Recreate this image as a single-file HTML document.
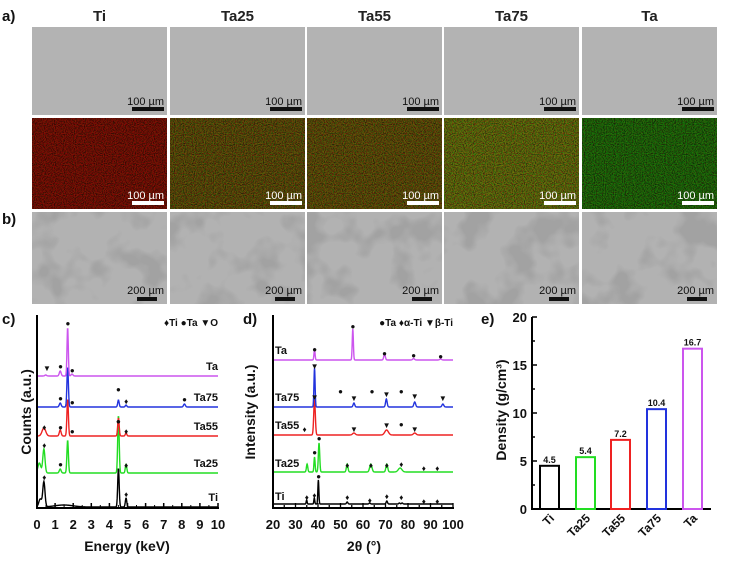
<!DOCTYPE html>
<html><head><meta charset="utf-8"><style>
html,body{margin:0;padding:0;background:#fff;}
svg{display:block;font-family:"Liberation Sans",Arial,sans-serif;}
</style></head><body>
<svg id="s" width="748" height="563" viewBox="0 0 748 563" xmlns="http://www.w3.org/2000/svg">
<defs></defs>
<g font-weight="bold" font-size="15" fill="#111">
<text x="2" y="21">a)</text><text x="2" y="224">b)</text>
<text x="2" y="324">c)</text><text x="243" y="324">d)</text><text x="481" y="324">e)</text>
</g>
<g id="imgs"></g>
<g id="charts"></g>
</svg>
<script>
const NS="http://www.w3.org/2000/svg";
const s=document.getElementById('imgs');
const D=document.querySelector('defs');
function el(t,a,p,txt){const e=document.createElementNS(NS,t);for(const k in a)e.setAttribute(k,a[k]);if(txt!==undefined)e.textContent=txt;(p||s).appendChild(e);return e;}
const xs=[32,170,307,444,582], W=135;
const names=["Ti","Ta25","Ta55","Ta75","Ta"];
const mapCols=[[105,8,8],[78,60,14],[80,62,14],[85,92,20],[20,88,15]];
names.forEach((n,i)=>{
  const x=xs[i];
  el('text',{x:x+W/2,y:21,'text-anchor':'middle','font-weight':'bold','font-size':15,fill:'#222'},s,n);
  el('rect',{x:x,y:27,width:W,height:88,fill:'#b3b3b3'});
  const c=mapCols[i];
  el('rect',{x:x,y:118,width:W,height:91,fill:`rgb(${c[0]},${c[1]},${c[2]})`});
  const f=el('filter',{id:'m'+i,x:0,y:0,width:'100%',height:'100%'},D);
  el('feTurbulence',{type:'fractalNoise',baseFrequency:0.9,numOctaves:1,seed:i+2},f);
  let r=c[0]/255,g=c[1]/255;
  el('feColorMatrix',{type:'matrix',values:`${3*r} 0 0 0 ${-1.2*r}  0 ${3*g} 0 0 ${-1.2*g}  0 0 0 0 0  0 0 0 0 0.45`},f);
  el('rect',{x:x,y:118,width:W,height:91,filter:`url(#m${i})`});
  el('rect',{x:x,y:212,width:W,height:92,fill:'#b2b2b2'});
  const f2=el('filter',{id:'s'+i,x:0,y:0,width:'100%',height:'100%'},D);
  el('feTurbulence',{type:'fractalNoise',baseFrequency:0.028,numOctaves:3,seed:i*5+1},f2);
  el('feColorMatrix',{type:'matrix',values:'0 0 0 0 0.36  0 0 0 0 0.36  0 0 0 0 0.36  -5 0 0 0 2.55'},f2);
  el('rect',{x:x,y:212,width:W,height:92,filter:`url(#s${i})`});
  el('text',{x:x+W-3,y:105,'text-anchor':'end','font-size':11,fill:'#111'},s,'100 µm');
  el('rect',{x:x+W-35,y:107,width:32,height:4,fill:'#111'});
  el('text',{x:x+W-3,y:199,'text-anchor':'end','font-size':11,fill:'#fff'},s,'100 µm');
  el('rect',{x:x+W-35,y:201,width:32,height:4,fill:'#fff'});
  el('text',{x:x+W-3,y:294,'text-anchor':'end','font-size':11,fill:'#111'},s,'200 µm');
  el('rect',{x:x+W-30,y:297,width:20,height:4,fill:'#111'});
});
const C=document.getElementById('charts');
const cols=['#000','#22dd22','#ee2222','#2233dd','#cc55ee'];
function curve(x0,x1,X0,X1,base,peaks,col,step){
  let d='';
  for(let v=x0;v<=x1+1e-9;v+=step){
    let h=0;for(const p of peaks){h+=p[1]*Math.exp(-((v-p[0])**2)/(2*p[2]*p[2]));}
    const px=X0+(v-x0)/(x1-x0)*(X1-X0);
    d+=(d?'L':'M')+px.toFixed(2)+','+(base-h).toFixed(2);
  }
  el('path',{d:d,fill:'none',stroke:col,'stroke-width':1.4},C);
}
function mk(x,y,t){el('text',{x:x,y:y,'text-anchor':'middle','font-size':8,fill:'#111'},C,t);}
// chart c
const ex=v=>37+v*18.1;
const eds=[[507,[[0.2,8,0.08],[0.4,25,0.06],[1.5,2,0.5],[4.51,39,0.04],[4.93,9,0.04]]],
[473,[[0.15,10,0.08],[0.4,24,0.06],[1.3,4,0.05],[1.71,33,0.04],[4.51,58,0.04],[4.93,9,0.04]]],
[436,[[0.4,8,0.1],[1.3,6,0.05],[1.71,37,0.04],[4.51,18,0.04],[4.93,3,0.04]]],
[407,[[1.3,4,0.05],[1.71,40,0.04],[4.51,7,0.04],[4.93,2,0.04],[8.15,3,0.05]]],
[376,[[0.5,1,0.05],[1.3,5,0.05],[1.71,49,0.035],[1.95,2,0.05]]]];
eds.forEach((e,i)=>curve(0.02,10,37,218,e[0],e[1],cols[i],0.02));
[[0.4,480,'♦'],[4.93,497,'♦'],[0.4,448,'♦'],[1.3,467,'●'],[4.5,424,'●'],[4.93,468,'♦'],
 [0.4,430,'♦'],[1.3,430,'●'],[1.95,434,'●'],[4.5,424,'●'],[4.93,434,'♦'],
 [1.3,401,'●'],[1.95,405,'●'],[4.5,392,'●'],[4.93,404,'♦'],[8.15,402,'●'],
 [0.55,371,'▼'],[1.3,369,'●'],[1.95,373,'●'],[1.71,326,'●']].forEach(([v,y,t])=>mk(ex(v),y,t));
const lab=(x,y,t)=>el('text',{x:x,y:y,'font-size':11,'font-weight':'bold',fill:'#111','text-anchor':'end'},C,t);
[[507,'Ti'],[473,'Ta25'],[436,'Ta55'],[407,'Ta75'],[376,'Ta']].forEach(([y,t])=>lab(218,y-6,t));
el('text',{x:218,y:326,'font-size':10,'font-weight':'bold','text-anchor':'end',fill:'#111'},C,'♦Ti ●Ta ▼O');
el('path',{d:'M37,315V508H219',fill:'none',stroke:'#000','stroke-width':2},C);
for(let i=0;i<=10;i++){const x=37+i*18.1;el('line',{x1:x,x2:x,y1:508,y2:503,stroke:'#000','stroke-width':1.5},C);
 if(i<10)el('line',{x1:x+9,x2:x+9,y1:508,y2:505,stroke:'#000','stroke-width':1},C);
 el('text',{x:x,y:529,'text-anchor':'middle','font-size':13,'font-weight':'bold',fill:'#111'},C,i);}
el('text',{x:127,y:551,'text-anchor':'middle','font-size':14,'font-weight':'bold',fill:'#111'},C,'Energy (keV)');
el('text',{x:0,y:0,transform:'translate(31,412) rotate(-90)','text-anchor':'middle','font-size':14,'font-weight':'bold',fill:'#111'},C,'Counts (a.u.)');
// chart d
const dx=v=>273+(v-20)*2.25;
const xrd=[[504,[[35,4,0.2],[38.4,6,0.2],[40.2,24,0.22],[53,2,0.3],[63,1,0.3],[70.6,3,0.3],[76.2,1,0.3],[77.4,1,0.3]]],
[472,[[35.2,8,0.3],[38.5,15,0.25],[40.5,29,0.3],[53,8,0.35],[63.5,8,0.5],[70.6,8,0.4],[76.5,4,0.8]]],
[435,[[38.5,35,0.35],[56,2,0.6],[70.5,5,0.8],[83,2,0.6]]],
[407,[[38.5,39,0.25],[56,4,0.35],[70.4,8,0.35],[83,5,0.4],[95.5,3,0.4]]],
[360,[[38.5,10,0.25],[55.5,31,0.25],[69.6,6,0.35],[82.5,1.5,0.4],[94.5,1,0.4]]]];
xrd.forEach((e,i)=>curve(20.5,100,274,453,e[0],e[1],cols[i],0.1));
[[35,500,'♦'],[38.4,498,'♦'],[40.3,479,'●'],[53,500,'♦'],[63,503,'♦'],[70.6,499,'♦'],[77,500,'♦'],[87,504,'♦'],[93,504,'♦'],
 [38.5,455,'●'],[40.5,441,'●'],[53,468,'♦'],[63.5,468,'♦'],[70.6,468,'♦'],[77,467,'♦'],[87,471,'♦'],[93,471,'♦'],
 [38.5,400,'▼'],[56,432,'▼'],[70.5,428,'▼'],[83,432,'▼'],[34,432,'♦'],[77,427,'●'],
 [38.5,369,'▼'],[56,401,'▼'],[70.4,397,'▼'],[83,399,'▼'],[95.5,401,'▼'],[50,394,'●'],[64,394,'●'],[77,394,'●'],
 [38.5,352,'●'],[55.5,329,'●'],[69.6,356,'●'],[82.5,358,'●'],[94.5,359,'●']].forEach(([v,y,t])=>mk(dx(v),y,t));
const labL=(x,y,t)=>el('text',{x:x,y:y,'font-size':11,'font-weight':'bold',fill:'#111'},C,t);
[[500,'Ti'],[467,'Ta25'],[429,'Ta55'],[401,'Ta75'],[354,'Ta']].forEach(([y,t])=>labL(275,y,t));
el('text',{x:453,y:326,'font-size':10,'font-weight':'bold','text-anchor':'end',fill:'#111'},C,'●Ta ♦α-Ti ▼β-Ti');
el('path',{d:'M273,315V508H454',fill:'none',stroke:'#000','stroke-width':2},C);
for(let i=0;i<=16;i++){const x=273+i*11.25;el('line',{x1:x,x2:x,y1:508,y2:i%2?505:503,stroke:'#000','stroke-width':1.3},C);
 if(i%2==0)el('text',{x:x,y:529,'text-anchor':'middle','font-size':13,'font-weight':'bold',fill:'#111'},C,20+i*5);}
el('text',{x:364,y:551,'text-anchor':'middle','font-size':14,'font-weight':'bold',fill:'#111'},C,'2θ (°)');
el('text',{x:0,y:0,transform:'translate(255,412) rotate(-90)','text-anchor':'middle','font-size':14,'font-weight':'bold',fill:'#111'},C,'Intensity (a.u.)');
// chart e
el('path',{d:'M532,317V509H711',fill:'none',stroke:'#000','stroke-width':2},C);
for(let v=0;v<=20;v+=2.5){const y=509-v*9.6;el('line',{x1:532,x2:v%5?535:537,y1:y,y2:y,stroke:'#000','stroke-width':1.5},C);
 if(v%5==0)el('text',{x:527,y:y+5,'text-anchor':'end','font-size':13,'font-weight':'bold',fill:'#111'},C,v);}
el('text',{x:0,y:0,transform:'translate(506,410) rotate(-90)','text-anchor':'middle','font-size':14,'font-weight':'bold',fill:'#111'},C,'Density (g/cm³)');
const bars=[[540,4.5,'Ti'],[576,5.4,'Ta25'],[611,7.2,'Ta55'],[647,10.4,'Ta75'],[683,16.7,'Ta']];
bars.forEach(([x,v,n],i)=>{const y=509-v*9.6;
 el('rect',{x:x,y:y,width:19,height:509-y,fill:'none',stroke:cols[i],'stroke-width':2},C);
 el('text',{x:x+9.5,y:y-3,'text-anchor':'middle','font-size':9,'font-weight':'bold',fill:'#111'},C,v.toFixed(1));
 el('text',{x:0,y:0,transform:`translate(${x+15},${519}) rotate(-45)`,'text-anchor':'end','font-size':12,'font-weight':'bold',fill:'#111'},C,n);});
</script>
</body></html>
